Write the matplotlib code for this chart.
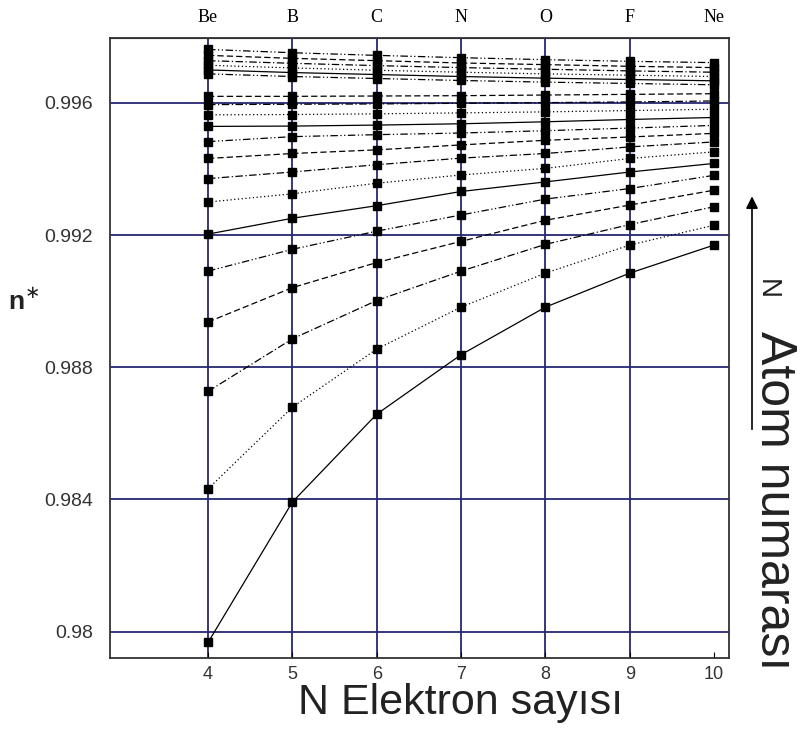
import matplotlib
matplotlib.use("Agg")
import matplotlib.pyplot as plt

# electron count N (x) and element at each N
n_electrons = [4, 5, 6, 7, 8, 9, 10]
elements = ["Be", "B", "C", "N", "O", "F", "Ne"]

# n* values, one list per atomic number, bottom line first
z01 = [0.97967, 0.98392, 0.98658, 0.98838, 0.98982, 0.99085, 0.99170]
z02 = [0.98432, 0.98679, 0.98855, 0.98982, 0.99085, 0.99170, 0.99230]
z03 = [0.98727, 0.98886, 0.99002, 0.99091, 0.99172, 0.99232, 0.99286]
z04 = [0.98937, 0.99041, 0.99117, 0.99181, 0.99245, 0.99291, 0.99336]
z05 = [0.99091, 0.99157, 0.99212, 0.99261, 0.99309, 0.99341, 0.99381]
z06 = [0.99203, 0.99251, 0.99289, 0.99332, 0.99361, 0.99391, 0.99417]
z07 = [0.99300, 0.99325, 0.99357, 0.99382, 0.99402, 0.99432, 0.99452]
z08 = [0.99371, 0.99391, 0.99413, 0.99433, 0.99447, 0.99467, 0.99482]
z09 = [0.99432, 0.99447, 0.99458, 0.99473, 0.99487, 0.99497, 0.99508]
z10 = [0.99483, 0.99498, 0.99504, 0.99509, 0.99516, 0.99524, 0.99532]
z11 = [0.99529, 0.99530, 0.99533, 0.99537, 0.99543, 0.99550, 0.99556]
z12 = [0.99564, 0.99565, 0.99567, 0.99570, 0.99573, 0.99577, 0.99581]
z13 = [0.99595, 0.99596, 0.99597, 0.99599, 0.99601, 0.99603, 0.99606]
z14 = [0.99620, 0.99620, 0.99621, 0.99622, 0.99624, 0.99626, 0.99628]
z15 = [0.99688, 0.99680, 0.99674, 0.99668, 0.99663, 0.99659, 0.99655]
z16 = [0.99700, 0.99692, 0.99686, 0.99680, 0.99675, 0.99671, 0.99667]
z17 = [0.99714, 0.99706, 0.99699, 0.99693, 0.99688, 0.99684, 0.99680]
z18 = [0.99728, 0.99720, 0.99713, 0.99707, 0.99702, 0.99697, 0.99693]
z19 = [0.99744, 0.99735, 0.99728, 0.99721, 0.99716, 0.99711, 0.99707]
z20 = [0.99762, 0.99752, 0.99744, 0.99737, 0.99731, 0.99726, 0.99722]
series = [z01, z02, z03, z04, z05, z06, z07, z08, z09, z10,
          z11, z12, z13, z14, z15, z16, z17, z18, z19, z20]

y_ticks = [0.98, 0.984, 0.988, 0.992, 0.996]
y_labels = ["0.98", "0.984", "0.988", "0.992", "0.996"]

# line styles repeat every 5 curves
styles = ["-", (0, (1, 2)), (0, (6, 2, 1, 2)), (0, (5, 2.5)), (0, (6, 2, 1, 2, 1, 2))]

plt.rcParams["font.family"] = ["Liberation Sans", "DejaVu Sans"]
grid_col = "#262673"

fig = plt.figure(figsize=(8, 7.36), dpi=100)
ax = fig.add_axes([0.1375, 0.106, 0.774, 0.843])

for k, ys in enumerate(series):
    ax.plot(n_electrons, ys, color="black", lw=0.9, ls=styles[k % 5],
            marker="s", ms=5.5, mfc="black", mec="black", zorder=3)

ax.set_xlim(2.838, 10.178)
ax.set_ylim(0.97920, 0.99798)

# grid: vertical lines only at 4..9, horizontal at every y tick
for x in n_electrons[:-1]:
    ax.axvline(x, color=grid_col, lw=1.3, zorder=1)
for y in y_ticks:
    ax.axhline(y, color=grid_col, lw=1.3, zorder=1)

ax.set_xticks(n_electrons)
ax.set_xticklabels([str(v) for v in n_electrons], fontsize=13, color="#333333")
ax.set_yticks(y_ticks)
ax.set_yticklabels(y_labels, fontsize=14, color="#333333")
ax.tick_params(axis="x", direction="in", length=4, pad=6)
ax.tick_params(axis="y", length=0, pad=12)
for s in ax.spines.values():
    s.set_color("#333333")
    s.set_linewidth(1.3)

top = ax.secondary_xaxis("top")
top.set_xticks(n_electrons)
top.set_xticklabels(elements, fontsize=13, family="Liberation Serif")
top.tick_params(length=0, pad=8)

fig.text(0.576, 0.045, "N Elektron sayısı", fontsize=31, ha="center",
         va="center", color="#222222")
fig.text(0.03, 0.59, r"n$^{\ast}$", fontsize=19, fontweight="bold",
         ha="center", va="center", color="#222222")

# right hand side: arrow and rotated caption
ax.annotate("", xy=(0.940, 0.737), xytext=(0.940, 0.413),
            xycoords="figure fraction", textcoords="figure fraction",
            arrowprops=dict(arrowstyle="-|>", color="black", lw=1.2,
                            mutation_scale=18))
fig.text(0.958, 0.608, "N", fontsize=20, rotation=-90, ha="center", va="center",
         color="#222222")
fig.text(0.968, 0.320, "Atom numarası", fontsize=36, rotation=-90,
         ha="center", va="center", color="#222222")

fig.savefig("out.png", dpi=100)
